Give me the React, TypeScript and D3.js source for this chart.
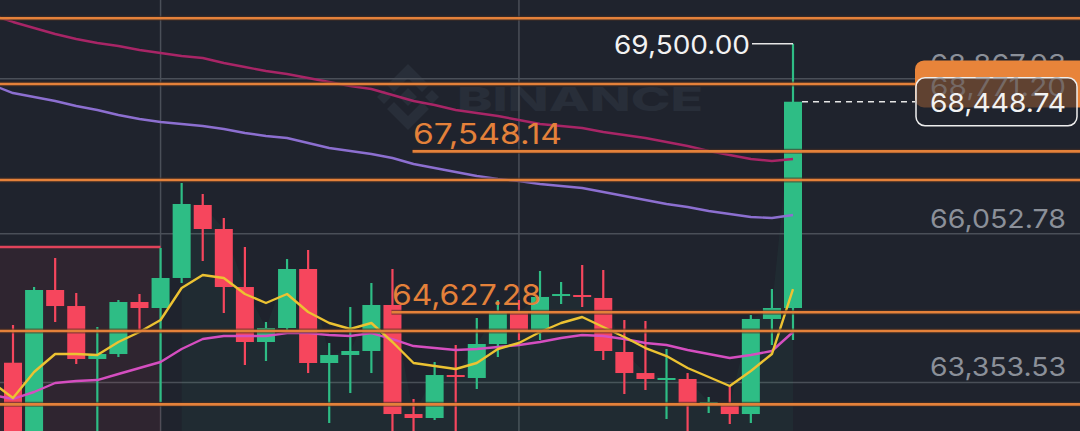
import React, { useEffect, useRef } from "react"
import * as d3 from "d3"

// one candle per period, oldest first
const opens = [63712, 62310, 65032, 64741, 63780, 63870, 64814, 64705, 65250, 66575, 66139, 65086, 64088, 64342, 65413, 63707, 63852, 63925, 64760, 62781, 62709, 63489, 63435, 64052, 64633, 64288, 64941, 64941, 64887, 63907, 63525, 63417, 63417, 62963, 62963, 62781, 64506, 64705]
const highs = [64397, 65086, 65613, 64977, 64360, 64850, 64959, 65794, 66974, 66774, 66339, 65812, 64451, 65594, 65758, 64070, 64723, 65159, 65413, 63054, 63725, 64034, 64524, 64850, 64850, 65377, 65177, 65486, 65395, 64487, 64469, 63961, 63525, 63090, 63290, 64578, 65050, 69500]
const lows = [62128, 62219, 64451, 63689, 62219, 63816, 64306, 62999, 65159, 65558, 64614, 63671, 63743, 64306, 63525, 62618, 63162, 63525, 62310, 62310, 62673, 62310, 63235, 63816, 64124, 64124, 64778, 64723, 63761, 63144, 63217, 62691, 62310, 62800, 62600, 62618, 64034, 64124]
const closes = [62310, 65032, 64741, 63780, 63870, 64814, 64705, 65250, 66593, 66139, 65086, 64088, 64342, 65413, 63707, 63852, 63925, 64760, 62781, 62709, 63489, 63453, 64052, 64633, 64288, 64905, 64959, 64905, 63925, 63525, 63417, 63435, 62945, 62999, 62781, 64506, 64705, 68448.74]

// moving averages, first value belongs to the candle just left of the view
const maStart = -1
const ma7 = [63362, 63072, 63544, 63870, 63870, 63852, 64088, 64270, 64487, 65068, 65304, 65250, 64959, 64796, 64959, 64633, 64433, 64324, 64433, 64088, 63707, 63652, 63598, 63707, 63961, 64070, 64270, 64433, 64542, 64360, 64179, 63979, 63834, 63616, 63453, 63290, 63562, 63870, 65050]
const ma25 = [63126, 63054, 63181, 63344, 63380, 63398, 63507, 63616, 63725, 63961, 64142, 64197, 64197, 64197, 64251, 64251, 64215, 64197, 64251, 64142, 64015, 63979, 63943, 63961, 63997, 64034, 64088, 64161, 64215, 64197, 64142, 64070, 64034, 63943, 63870, 63798, 63852, 63925, 64270]
const ma99 = [68752, 68607, 68535, 68462, 68371, 68299, 68208, 68135, 68081, 68045, 68008, 67954, 67881, 67827, 67790, 67700, 67609, 67554, 67500, 67428, 67319, 67246, 67173, 67101, 67046, 67010, 66956, 66919, 66883, 66810, 66738, 66665, 66593, 66538, 66466, 66411, 66357, 66339, 66393]
const maLong = [70023, 69896, 69787, 69678, 69587, 69515, 69460, 69388, 69333, 69279, 69242, 69152, 69079, 69006, 68952, 68879, 68807, 68734, 68680, 68571, 68462, 68389, 68299, 68244, 68190, 68117, 68045, 68008, 67972, 67899, 67845, 67790, 67718, 67645, 67554, 67482, 67409, 67373, 67409]

// drawn horizontal lines (price, candle index where it starts or null for full width)
const linePrices = [69963, 68771.2, 67548.14, 67028, 64627.28, 64288, 62957]
const lineStart: (number | null)[] = [null, null, 19, null, 18, null, null]
const lineLabels = ["", "", "67,548.14", "", "64,627.28", "", ""]

const gridPrices = [68867.03, 66052.78, 63353.53]
const gridLabels = ["68,867.03", "66,052.78", "63,353.53"]
const gridCandles = [7, 24]

const shortZone = { from: -1, to: 7, price: 65812 }
const longZone = { from: 8, to: 37 }

const W = 1080
const H = 431
const FONT = "Inter, 'Noto Sans', sans-serif"

const App = () => {
  const chart = useRef<SVGSVGElement | null>(null)

  useEffect(() => {
    const svg = d3.select(chart.current)
    svg.selectAll("*").remove()

    const x = d3.scaleLinear().domain([0, 37]).range([13, 793])
    const y = d3.scaleLinear().domain([62473, 70295]).range([H, 0])
    const green = "#2ebd85"
    const red = "#f6465d"
    const orange = "#e4813a"

    svg.append("rect").attr("width", W).attr("height", H).attr("fill", "#1f232d")

    // watermark
    const wm = svg.append("g").attr("fill", "#282e39")
    const cx = 408, cy = 97
    wm.append("path").attr("d", `M${cx} ${cy - 9} L${cx + 9} ${cy} L${cx} ${cy + 9} L${cx - 9} ${cy} Z`)
    wm.append("path").attr("d", `M${cx - 24} ${cy - 7} L${cx - 17} ${cy} L${cx - 24} ${cy + 7} L${cx - 31} ${cy} Z`)
    wm.append("path").attr("d", `M${cx + 24} ${cy - 7} L${cx + 31} ${cy} L${cx + 24} ${cy + 7} L${cx + 17} ${cy} Z`)
    wm.append("path").attr("d", `M${cx - 21} ${cy - 12} L${cx} ${cy - 33} L${cx + 21} ${cy - 12} L${cx + 14} ${cy - 5} L${cx} ${cy - 19} L${cx - 14} ${cy - 5} Z`)
    wm.append("path").attr("d", `M${cx - 21} ${cy + 12} L${cx} ${cy + 33} L${cx + 21} ${cy + 12} L${cx + 14} ${cy + 5} L${cx} ${cy + 19} L${cx - 14} ${cy + 5} Z`)
    wm.append("text").attr("x", 457).attr("y", 111).attr("font-family", FONT).attr("font-weight", 800)
      .attr("font-size", 33).attr("textLength", 246).attr("lengthAdjust", "spacingAndGlyphs").text("BINANCE")

    // grid
    svg.append("g").attr("stroke", "#4a4f58").attr("stroke-width", 1.5)
      .selectAll("line").data(gridPrices).join("line")
      .attr("x1", 0).attr("x2", W).attr("y1", (d) => y(d)).attr("y2", (d) => y(d))
    svg.append("g").attr("stroke", "#4a4f58").attr("stroke-width", 1.5)
      .selectAll("line").data(gridCandles).join("line")
      .attr("x1", (d) => x(d)).attr("x2", (d) => x(d)).attr("y1", 0).attr("y2", H)

    // position zones
    svg.append("rect")
      .attr("x", x(shortZone.from)).attr("y", y(shortZone.price))
      .attr("width", x(shortZone.to) - x(shortZone.from)).attr("height", H - y(shortZone.price))
      .attr("fill", red).attr("fill-opacity", 0.08)
    svg.append("line")
      .attr("x1", x(shortZone.from)).attr("x2", x(shortZone.to))
      .attr("y1", y(shortZone.price)).attr("y2", y(shortZone.price))
      .attr("stroke", "#e0435a").attr("stroke-width", 2.5)

    const zoneIdx = d3.range(longZone.from, longZone.to + 1)
    const area = d3.area<number>()
      .x((i) => x(i))
      .y0(H)
      .y1((i) => y(Math.max(opens[i], closes[i])))
    svg.append("path").datum(zoneIdx).attr("d", area).attr("fill", green).attr("fill-opacity", 0.06)

    // candles
    const idx = d3.range(opens.length)
    const c = svg.append("g")
    c.selectAll("line").data(idx).join("line")
      .attr("x1", (i) => x(i)).attr("x2", (i) => x(i))
      .attr("y1", (i) => y(highs[i])).attr("y2", (i) => y(lows[i]))
      .attr("stroke", (i) => (closes[i] >= opens[i] ? green : red)).attr("stroke-width", 2.2)
    c.selectAll("rect").data(idx).join("rect")
      .attr("x", (i) => x(i) - 9).attr("width", 18)
      .attr("y", (i) => y(Math.max(opens[i], closes[i])))
      .attr("height", (i) => Math.max(2, Math.abs(y(opens[i]) - y(closes[i]))))
      .attr("fill", (i) => (closes[i] >= opens[i] ? green : red))

    // moving averages
    const maLine = d3.line<number>().x((d, i) => x(i + maStart)).y((d) => y(d))
    const mas: [number[], string][] = [
      [maLong, "#a82566"],
      [ma99, "#8c6fd0"],
      [ma25, "#d54ec0"],
      [ma7, "#ecc232"],
    ]
    mas.forEach(([s, col]) => {
      svg.append("path").datum(s).attr("d", maLine).attr("fill", "none")
        .attr("stroke", col).attr("stroke-width", 2.4).attr("stroke-linejoin", "round")
    })

    // drawn price lines
    const pl = svg.append("g")
    pl.selectAll("line.halo").data(linePrices).join("line").attr("class", "halo")
      .attr("x1", (d, i) => (lineStart[i] == null ? 0 : x(lineStart[i]!) - 1))
      .attr("x2", W)
      .attr("y1", (d) => y(d)).attr("y2", (d) => y(d))
      .attr("stroke", "#4a2e22").attr("stroke-width", 5).attr("stroke-opacity", 0.6)
    pl.selectAll("line.main").data(linePrices).join("line").attr("class", "main")
      .attr("x1", (d, i) => (lineStart[i] == null ? 0 : x(lineStart[i]!) - 1))
      .attr("x2", W)
      .attr("y1", (d) => y(d)).attr("y2", (d) => y(d))
      .attr("stroke", orange).attr("stroke-width", 2.6)
    svg.append("g").selectAll("text").data(linePrices.filter((d, i) => lineLabels[i] !== "")).join("text")
      .attr("x", (d) => x(lineStart[linePrices.indexOf(d)]!) - 0.5)
      .attr("y", (d) => y(d) - 7)
      .attr("font-family", FONT).attr("font-size", 28).attr("fill", orange)
      .attr("textLength", 149).attr("lengthAdjust", "spacingAndGlyphs")
      .text((d) => lineLabels[linePrices.indexOf(d)])

    // axis labels
    svg.append("g").selectAll("text").data(gridPrices).join("text")
      .attr("x", 1066).attr("y", (d) => y(d) - 6).attr("text-anchor", "end")
      .attr("font-family", FONT).attr("font-size", 26).attr("fill", "#8b9099")
      .attr("textLength", 136).attr("lengthAdjust", "spacingAndGlyphs")
      .text((d, i) => gridLabels[i])

    // last price marker
    const last = closes.length - 1
    const lastX = x(last)
    svg.append("line").attr("x1", lastX + 9).attr("x2", 915)
      .attr("y1", y(closes[last])).attr("y2", y(closes[last]))
      .attr("stroke", "#e6e6e6").attr("stroke-width", 1.5).attr("stroke-dasharray", "6,5")

    const ob = y(linePrices[1])
    svg.append("rect").attr("x", 915).attr("y", ob - 23.5).attr("width", 175).attr("height", 47)
      .attr("rx", 9).attr("fill", "#e8843a")
    const cb = y(closes[last])
    svg.append("rect").attr("x", 916).attr("y", cb - 24).attr("width", 161).attr("height", 48)
      .attr("rx", 9).attr("fill", "#1f232d").attr("fill-opacity", 0.68)
      .attr("stroke", "#eeeeee").attr("stroke-width", 1.5)
    svg.append("text").attr("x", 1066).attr("y", ob + 12).attr("text-anchor", "end")
      .attr("font-family", FONT).attr("font-size", 26).attr("fill", "#8b9099").attr("fill-opacity", 0.5)
      .attr("textLength", 136).attr("lengthAdjust", "spacingAndGlyphs")
      .text("68,771.20")
    svg.append("text").attr("x", 1066).attr("y", cb + 10).attr("text-anchor", "end")
      .attr("font-family", FONT).attr("font-size", 26).attr("fill", "#f2f2f2")
      .attr("textLength", 136).attr("lengthAdjust", "spacingAndGlyphs")
      .text(d3.format(",.2f")(closes[last]))

    // high marker
    const hy = y(highs[last])
    svg.append("path").attr("d", `M752 ${hy} H${lastX}`).attr("stroke", "#e6e6e6").attr("stroke-width", 1.5)
    svg.append("text").attr("x", 750).attr("y", hy + 10).attr("text-anchor", "end")
      .attr("font-family", FONT).attr("font-size", 26).attr("fill", "#f2f2f2")
      .attr("textLength", 136).attr("lengthAdjust", "spacingAndGlyphs")
      .text(d3.format(",.2f")(highs[last]))
  }, [])

  return (
    <svg
      ref={chart}
      width={W}
      height={H}
      style={{ position: "absolute", left: 0, top: 0, display: "block" }}
    ></svg>
  )
}

export default App
